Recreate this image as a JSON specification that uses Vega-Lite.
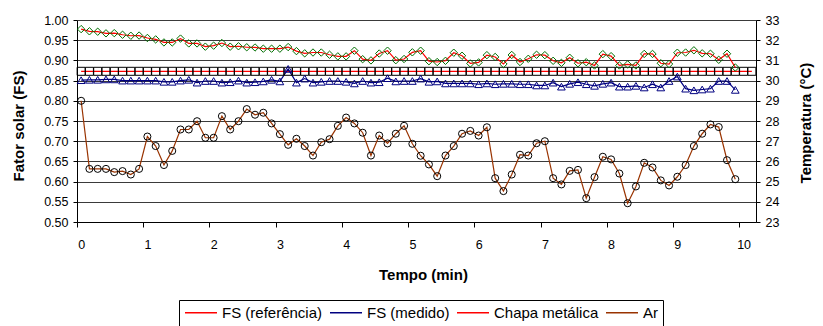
{
  "$schema": "https://vega.github.io/schema/vega-lite/v6.json",
  "width": 679,
  "height": 202,
  "autosize": {"type": "none"},
  "padding": {"left": 77, "top": 20, "right": 67, "bottom": 104},
  "background": "white",
  "config": {
    "font": "Liberation Sans",
    "view": {"stroke": null},
    "axis": {
      "labelFont": "Liberation Sans",
      "labelFontSize": 12.5,
      "labelColor": "black",
      "titleFont": "Liberation Sans",
      "titleFontSize": 15,
      "titleFontWeight": "bold",
      "titleColor": "black",
      "domainColor": "black",
      "tickColor": "black",
      "domainWidth": 1,
      "tickWidth": 1
    }
  },
  "datasets": {
    "fs": [
      {"t":0,"serie":"FS (referência)","v":0.873},{"t":0.125,"serie":"FS (referência)","v":0.873},{"t":0.25,"serie":"FS (referência)","v":0.873},{"t":0.375,"serie":"FS (referência)","v":0.873},{"t":0.5,"serie":"FS (referência)","v":0.873},{"t":0.625,"serie":"FS (referência)","v":0.873},{"t":0.75,"serie":"FS (referência)","v":0.873},{"t":0.875,"serie":"FS (referência)","v":0.873},
      {"t":1,"serie":"FS (referência)","v":0.873},{"t":1.125,"serie":"FS (referência)","v":0.873},{"t":1.25,"serie":"FS (referência)","v":0.873},{"t":1.375,"serie":"FS (referência)","v":0.873},{"t":1.5,"serie":"FS (referência)","v":0.873},{"t":1.625,"serie":"FS (referência)","v":0.873},{"t":1.75,"serie":"FS (referência)","v":0.873},{"t":1.875,"serie":"FS (referência)","v":0.873},
      {"t":2,"serie":"FS (referência)","v":0.873},{"t":2.125,"serie":"FS (referência)","v":0.873},{"t":2.25,"serie":"FS (referência)","v":0.873},{"t":2.375,"serie":"FS (referência)","v":0.873},{"t":2.5,"serie":"FS (referência)","v":0.873},{"t":2.625,"serie":"FS (referência)","v":0.873},{"t":2.75,"serie":"FS (referência)","v":0.873},{"t":2.875,"serie":"FS (referência)","v":0.873},
      {"t":3,"serie":"FS (referência)","v":0.873},{"t":3.125,"serie":"FS (referência)","v":0.873},{"t":3.25,"serie":"FS (referência)","v":0.873},{"t":3.375,"serie":"FS (referência)","v":0.873},{"t":3.5,"serie":"FS (referência)","v":0.873},{"t":3.625,"serie":"FS (referência)","v":0.873},{"t":3.75,"serie":"FS (referência)","v":0.873},{"t":3.875,"serie":"FS (referência)","v":0.873},
      {"t":4,"serie":"FS (referência)","v":0.873},{"t":4.125,"serie":"FS (referência)","v":0.873},{"t":4.25,"serie":"FS (referência)","v":0.873},{"t":4.375,"serie":"FS (referência)","v":0.873},{"t":4.5,"serie":"FS (referência)","v":0.873},{"t":4.625,"serie":"FS (referência)","v":0.873},{"t":4.75,"serie":"FS (referência)","v":0.873},{"t":4.875,"serie":"FS (referência)","v":0.873},
      {"t":5,"serie":"FS (referência)","v":0.873},{"t":5.125,"serie":"FS (referência)","v":0.873},{"t":5.25,"serie":"FS (referência)","v":0.873},{"t":5.375,"serie":"FS (referência)","v":0.873},{"t":5.5,"serie":"FS (referência)","v":0.873},{"t":5.625,"serie":"FS (referência)","v":0.873},{"t":5.75,"serie":"FS (referência)","v":0.873},{"t":5.875,"serie":"FS (referência)","v":0.873},
      {"t":6,"serie":"FS (referência)","v":0.873},{"t":6.125,"serie":"FS (referência)","v":0.873},{"t":6.25,"serie":"FS (referência)","v":0.873},{"t":6.375,"serie":"FS (referência)","v":0.873},{"t":6.5,"serie":"FS (referência)","v":0.873},{"t":6.625,"serie":"FS (referência)","v":0.873},{"t":6.75,"serie":"FS (referência)","v":0.873},{"t":6.875,"serie":"FS (referência)","v":0.873},
      {"t":7,"serie":"FS (referência)","v":0.873},{"t":7.125,"serie":"FS (referência)","v":0.873},{"t":7.25,"serie":"FS (referência)","v":0.873},{"t":7.375,"serie":"FS (referência)","v":0.873},{"t":7.5,"serie":"FS (referência)","v":0.873},{"t":7.625,"serie":"FS (referência)","v":0.873},{"t":7.75,"serie":"FS (referência)","v":0.873},{"t":7.875,"serie":"FS (referência)","v":0.873},
      {"t":8,"serie":"FS (referência)","v":0.873},{"t":8.125,"serie":"FS (referência)","v":0.873},{"t":8.25,"serie":"FS (referência)","v":0.873},{"t":8.375,"serie":"FS (referência)","v":0.873},{"t":8.5,"serie":"FS (referência)","v":0.873},{"t":8.625,"serie":"FS (referência)","v":0.873},{"t":8.75,"serie":"FS (referência)","v":0.873},{"t":8.875,"serie":"FS (referência)","v":0.873},
      {"t":9,"serie":"FS (referência)","v":0.873},{"t":9.125,"serie":"FS (referência)","v":0.873},{"t":9.25,"serie":"FS (referência)","v":0.873},{"t":9.375,"serie":"FS (referência)","v":0.873},{"t":9.5,"serie":"FS (referência)","v":0.873},{"t":9.625,"serie":"FS (referência)","v":0.873},{"t":9.75,"serie":"FS (referência)","v":0.873},{"t":9.875,"serie":"FS (referência)","v":0.873},
      {"t":10,"serie":"FS (referência)","v":0.873},{"t":10.125,"serie":"FS (referência)","v":0.873},

      {"t":0,"serie":"FS (medido)","v":0.851},{"t":0.125,"serie":"FS (medido)","v":0.852},{"t":0.25,"serie":"FS (medido)","v":0.852},{"t":0.375,"serie":"FS (medido)","v":0.853},{"t":0.5,"serie":"FS (medido)","v":0.853},{"t":0.625,"serie":"FS (medido)","v":0.85},{"t":0.75,"serie":"FS (medido)","v":0.85},{"t":0.875,"serie":"FS (medido)","v":0.85},
      {"t":1,"serie":"FS (medido)","v":0.85},{"t":1.125,"serie":"FS (medido)","v":0.85},{"t":1.25,"serie":"FS (medido)","v":0.847},{"t":1.375,"serie":"FS (medido)","v":0.847},{"t":1.5,"serie":"FS (medido)","v":0.85},{"t":1.625,"serie":"FS (medido)","v":0.852},{"t":1.75,"serie":"FS (medido)","v":0.845},{"t":1.875,"serie":"FS (medido)","v":0.849},
      {"t":2,"serie":"FS (medido)","v":0.849},{"t":2.125,"serie":"FS (medido)","v":0.845},{"t":2.25,"serie":"FS (medido)","v":0.846},{"t":2.375,"serie":"FS (medido)","v":0.85},{"t":2.5,"serie":"FS (medido)","v":0.845},{"t":2.625,"serie":"FS (medido)","v":0.846},{"t":2.75,"serie":"FS (medido)","v":0.848},{"t":2.875,"serie":"FS (medido)","v":0.852},
      {"t":3,"serie":"FS (medido)","v":0.848},{"t":3.125,"serie":"FS (medido)","v":0.879},{"t":3.25,"serie":"FS (medido)","v":0.845},{"t":3.375,"serie":"FS (medido)","v":0.855},{"t":3.5,"serie":"FS (medido)","v":0.845},{"t":3.625,"serie":"FS (medido)","v":0.847},{"t":3.75,"serie":"FS (medido)","v":0.849},{"t":3.875,"serie":"FS (medido)","v":0.849},
      {"t":4,"serie":"FS (medido)","v":0.847},{"t":4.125,"serie":"FS (medido)","v":0.843},{"t":4.25,"serie":"FS (medido)","v":0.849},{"t":4.375,"serie":"FS (medido)","v":0.845},{"t":4.5,"serie":"FS (medido)","v":0.846},{"t":4.625,"serie":"FS (medido)","v":0.856},{"t":4.75,"serie":"FS (medido)","v":0.848},{"t":4.875,"serie":"FS (medido)","v":0.849},
      {"t":5,"serie":"FS (medido)","v":0.849},{"t":5.125,"serie":"FS (medido)","v":0.855},{"t":5.25,"serie":"FS (medido)","v":0.847},{"t":5.375,"serie":"FS (medido)","v":0.848},{"t":5.5,"serie":"FS (medido)","v":0.843},{"t":5.625,"serie":"FS (medido)","v":0.843},{"t":5.75,"serie":"FS (medido)","v":0.843},{"t":5.875,"serie":"FS (medido)","v":0.843},
      {"t":6,"serie":"FS (medido)","v":0.841},{"t":6.125,"serie":"FS (medido)","v":0.843},{"t":6.25,"serie":"FS (medido)","v":0.841},{"t":6.375,"serie":"FS (medido)","v":0.842},{"t":6.5,"serie":"FS (medido)","v":0.842},{"t":6.625,"serie":"FS (medido)","v":0.841},{"t":6.75,"serie":"FS (medido)","v":0.841},{"t":6.875,"serie":"FS (medido)","v":0.838},
      {"t":7,"serie":"FS (medido)","v":0.838},{"t":7.125,"serie":"FS (medido)","v":0.845},{"t":7.25,"serie":"FS (medido)","v":0.835},{"t":7.375,"serie":"FS (medido)","v":0.842},{"t":7.5,"serie":"FS (medido)","v":0.846},{"t":7.625,"serie":"FS (medido)","v":0.841},{"t":7.75,"serie":"FS (medido)","v":0.837},{"t":7.875,"serie":"FS (medido)","v":0.842},
      {"t":8,"serie":"FS (medido)","v":0.845},{"t":8.125,"serie":"FS (medido)","v":0.835},{"t":8.25,"serie":"FS (medido)","v":0.835},{"t":8.375,"serie":"FS (medido)","v":0.837},{"t":8.5,"serie":"FS (medido)","v":0.833},{"t":8.625,"serie":"FS (medido)","v":0.841},{"t":8.75,"serie":"FS (medido)","v":0.833},{"t":8.875,"serie":"FS (medido)","v":0.849},
      {"t":9,"serie":"FS (medido)","v":0.86},{"t":9.125,"serie":"FS (medido)","v":0.83},{"t":9.25,"serie":"FS (medido)","v":0.826},{"t":9.375,"serie":"FS (medido)","v":0.828},{"t":9.5,"serie":"FS (medido)","v":0.83},{"t":9.625,"serie":"FS (medido)","v":0.849},{"t":9.75,"serie":"FS (medido)","v":0.849},{"t":9.875,"serie":"FS (medido)","v":0.827}
    ],
    "temp": [
      {"t":0,"serie":"Chapa metálica","v":32.55},{"t":0.125,"serie":"Chapa metálica","v":32.44},{"t":0.25,"serie":"Chapa metálica","v":32.42},{"t":0.375,"serie":"Chapa metálica","v":32.34},{"t":0.5,"serie":"Chapa metálica","v":32.35},{"t":0.625,"serie":"Chapa metálica","v":32.27},{"t":0.75,"serie":"Chapa metálica","v":32.22},{"t":0.875,"serie":"Chapa metálica","v":32.23},
      {"t":1,"serie":"Chapa metálica","v":32.11},{"t":1.125,"serie":"Chapa metálica","v":32.04},{"t":1.25,"serie":"Chapa metálica","v":31.89},{"t":1.375,"serie":"Chapa metálica","v":31.89},{"t":1.5,"serie":"Chapa metálica","v":32.08},{"t":1.625,"serie":"Chapa metálica","v":31.84},{"t":1.75,"serie":"Chapa metálica","v":31.84},{"t":1.875,"serie":"Chapa metálica","v":31.68},
      {"t":2,"serie":"Chapa metálica","v":31.73},{"t":2.125,"serie":"Chapa metálica","v":31.86},{"t":2.25,"serie":"Chapa metálica","v":31.68},{"t":2.375,"serie":"Chapa metálica","v":31.7},{"t":2.5,"serie":"Chapa metálica","v":31.65},{"t":2.625,"serie":"Chapa metálica","v":31.64},{"t":2.75,"serie":"Chapa metálica","v":31.58},{"t":2.875,"serie":"Chapa metálica","v":31.58},
      {"t":3,"serie":"Chapa metálica","v":31.58},{"t":3.125,"serie":"Chapa metálica","v":31.66},{"t":3.25,"serie":"Chapa metálica","v":31.46},{"t":3.375,"serie":"Chapa metálica","v":31.35},{"t":3.5,"serie":"Chapa metálica","v":31.39},{"t":3.625,"serie":"Chapa metálica","v":31.39},{"t":3.75,"serie":"Chapa metálica","v":31.28},{"t":3.875,"serie":"Chapa metálica","v":31.2},
      {"t":4,"serie":"Chapa metálica","v":31.2},{"t":4.125,"serie":"Chapa metálica","v":31.48},{"t":4.25,"serie":"Chapa metálica","v":31.06},{"t":4.375,"serie":"Chapa metálica","v":31.0},{"t":4.5,"serie":"Chapa metálica","v":31.34},{"t":4.625,"serie":"Chapa metálica","v":31.48},{"t":4.75,"serie":"Chapa metálica","v":31.01},{"t":4.875,"serie":"Chapa metálica","v":31.07},
      {"t":5,"serie":"Chapa metálica","v":31.4},{"t":5.125,"serie":"Chapa metálica","v":31.48},{"t":5.25,"serie":"Chapa metálica","v":30.96},{"t":5.375,"serie":"Chapa metálica","v":30.92},{"t":5.5,"serie":"Chapa metálica","v":30.98},{"t":5.625,"serie":"Chapa metálica","v":31.38},{"t":5.75,"serie":"Chapa metálica","v":31.23},{"t":5.875,"serie":"Chapa metálica","v":30.85},
      {"t":6,"serie":"Chapa metálica","v":30.9},{"t":6.125,"serie":"Chapa metálica","v":31.26},{"t":6.25,"serie":"Chapa metálica","v":31.17},{"t":6.375,"serie":"Chapa metálica","v":30.82},{"t":6.5,"serie":"Chapa metálica","v":31.27},{"t":6.625,"serie":"Chapa metálica","v":30.92},{"t":6.75,"serie":"Chapa metálica","v":31.08},{"t":6.875,"serie":"Chapa metálica","v":31.28},
      {"t":7,"serie":"Chapa metálica","v":31.26},{"t":7.125,"serie":"Chapa metálica","v":30.98},{"t":7.25,"serie":"Chapa metálica","v":30.88},{"t":7.375,"serie":"Chapa metálica","v":31.13},{"t":7.5,"serie":"Chapa metálica","v":30.86},{"t":7.625,"serie":"Chapa metálica","v":30.91},{"t":7.75,"serie":"Chapa metálica","v":30.75},{"t":7.875,"serie":"Chapa metálica","v":31.31},
      {"t":8,"serie":"Chapa metálica","v":31.21},{"t":8.125,"serie":"Chapa metálica","v":30.75},{"t":8.25,"serie":"Chapa metálica","v":30.8},{"t":8.375,"serie":"Chapa metálica","v":30.75},{"t":8.5,"serie":"Chapa metálica","v":31.32},{"t":8.625,"serie":"Chapa metálica","v":31.32},{"t":8.75,"serie":"Chapa metálica","v":30.86},{"t":8.875,"serie":"Chapa metálica","v":30.82},
      {"t":9,"serie":"Chapa metálica","v":31.38},{"t":9.125,"serie":"Chapa metálica","v":31.39},{"t":9.25,"serie":"Chapa metálica","v":31.5},{"t":9.375,"serie":"Chapa metálica","v":31.35},{"t":9.5,"serie":"Chapa metálica","v":31.33},{"t":9.625,"serie":"Chapa metálica","v":31.03},{"t":9.75,"serie":"Chapa metálica","v":31.33},{"t":9.875,"serie":"Chapa metálica","v":30.65},

      {"t":0,"serie":"Ar","v":29.0},{"t":0.125,"serie":"Ar","v":25.63},{"t":0.25,"serie":"Ar","v":25.63},{"t":0.375,"serie":"Ar","v":25.63},{"t":0.5,"serie":"Ar","v":25.47},{"t":0.625,"serie":"Ar","v":25.52},{"t":0.75,"serie":"Ar","v":25.35},{"t":0.875,"serie":"Ar","v":25.63},
      {"t":1,"serie":"Ar","v":27.23},{"t":1.125,"serie":"Ar","v":26.76},{"t":1.25,"serie":"Ar","v":25.82},{"t":1.375,"serie":"Ar","v":26.52},{"t":1.5,"serie":"Ar","v":27.58},{"t":1.625,"serie":"Ar","v":27.58},{"t":1.75,"serie":"Ar","v":27.99},{"t":1.875,"serie":"Ar","v":27.17},
      {"t":2,"serie":"Ar","v":27.17},{"t":2.125,"serie":"Ar","v":28.24},{"t":2.25,"serie":"Ar","v":27.58},{"t":2.375,"serie":"Ar","v":27.99},{"t":2.5,"serie":"Ar","v":28.59},{"t":2.625,"serie":"Ar","v":28.31},{"t":2.75,"serie":"Ar","v":28.41},{"t":2.875,"serie":"Ar","v":27.88},
      {"t":3,"serie":"Ar","v":27.35},{"t":3.125,"serie":"Ar","v":26.82},{"t":3.25,"serie":"Ar","v":27.12},{"t":3.375,"serie":"Ar","v":26.76},{"t":3.5,"serie":"Ar","v":26.29},{"t":3.625,"serie":"Ar","v":26.95},{"t":3.75,"serie":"Ar","v":27.1},{"t":3.875,"serie":"Ar","v":27.76},
      {"t":4,"serie":"Ar","v":28.17},{"t":4.125,"serie":"Ar","v":27.88},{"t":4.25,"serie":"Ar","v":27.42},{"t":4.375,"serie":"Ar","v":26.29},{"t":4.5,"serie":"Ar","v":27.28},{"t":4.625,"serie":"Ar","v":26.89},{"t":4.75,"serie":"Ar","v":27.37},{"t":4.875,"serie":"Ar","v":27.76},
      {"t":5,"serie":"Ar","v":26.87},{"t":5.125,"serie":"Ar","v":26.28},{"t":5.25,"serie":"Ar","v":25.85},{"t":5.375,"serie":"Ar","v":25.27},{"t":5.5,"serie":"Ar","v":26.29},{"t":5.625,"serie":"Ar","v":26.76},{"t":5.75,"serie":"Ar","v":27.37},{"t":5.875,"serie":"Ar","v":27.51},
      {"t":6,"serie":"Ar","v":27.28},{"t":6.125,"serie":"Ar","v":27.69},{"t":6.25,"serie":"Ar","v":25.17},{"t":6.375,"serie":"Ar","v":24.53},{"t":6.5,"serie":"Ar","v":25.35},{"t":6.625,"serie":"Ar","v":26.33},{"t":6.75,"serie":"Ar","v":26.29},{"t":6.875,"serie":"Ar","v":26.9},
      {"t":7,"serie":"Ar","v":27.0},{"t":7.125,"serie":"Ar","v":25.17},{"t":7.25,"serie":"Ar","v":24.86},{"t":7.375,"serie":"Ar","v":25.53},{"t":7.5,"serie":"Ar","v":25.58},{"t":7.625,"serie":"Ar","v":24.18},{"t":7.75,"serie":"Ar","v":25.22},{"t":7.875,"serie":"Ar","v":26.23},
      {"t":8,"serie":"Ar","v":26.1},{"t":8.125,"serie":"Ar","v":25.4},{"t":8.25,"serie":"Ar","v":23.93},{"t":8.375,"serie":"Ar","v":24.76},{"t":8.5,"serie":"Ar","v":25.93},{"t":8.625,"serie":"Ar","v":25.7},{"t":8.75,"serie":"Ar","v":25.06},{"t":8.875,"serie":"Ar","v":24.81},
      {"t":9,"serie":"Ar","v":25.24},{"t":9.125,"serie":"Ar","v":25.82},{"t":9.25,"serie":"Ar","v":26.76},{"t":9.375,"serie":"Ar","v":27.37},{"t":9.5,"serie":"Ar","v":27.83},{"t":9.625,"serie":"Ar","v":27.7},{"t":9.75,"serie":"Ar","v":26.06},{"t":9.875,"serie":"Ar","v":25.12}
    ]
  },
  "encoding": {
    "x": {
      "field": "t",
      "type": "quantitative",
      "scale": {"domain": [-0.0625, 10.1875], "nice": false, "zero": false},
      "axis": {
        "values": [0,1,2,3,4,5,6,7,8,9,10],
        "format": "d",
        "grid": false,
        "tickOffset": -4.14,
        "labelOffset": 4.14,
        "tickSize": 5,
        "labelPadding": 11,
        "labelFlush": false,
        "title": "Tempo (min)",
        "titleX": 346,
        "titlePadding": 17
      }
    }
  },
  "layer": [
    {
      "data": {"name": "fs"},
      "encoding": {
        "y": {
          "field": "v",
          "type": "quantitative",
          "scale": {"domain": [0.5, 1.0], "nice": false, "zero": false},
          "axis": {
            "orient": "left",
            "values": [0.5,0.55,0.6,0.65,0.7,0.75,0.8,0.85,0.9,0.95,1.0],
            "format": ".2f",
            "grid": true,
            "gridColor": "#3a3a3a",
            "gridWidth": 1,
            "tickSize": 4,
            "labelPadding": 5,
            "labelFlush": false,
            "title": "Fator solar (FS)",
            "titleAngle": 270,
            "titleAlign": "center",
            "titleBaseline": "middle",
            "titleX": -58.5,
            "titleY": 105.5
          }
        }
      },
      "layer": [
        {
          "mark": {"type": "line", "strokeWidth": 1.2},
          "encoding": {
            "color": {
              "field": "serie",
              "type": "nominal",
              "scale": {"domain": ["FS (referência)","FS (medido)","Chapa metálica","Ar"], "range": ["#ff0000","#000080","#ff0000","#993300"]},
              "legend": {"orient": "none","legendX": 102,"legendY": 280,"direction": "horizontal","title": null,"symbolType": "stroke","symbolSize": 1024,"symbolStrokeWidth": 1.5,"clipHeight": 15,"labelFont": "Liberation Sans","labelFontSize": 15,"labelColor": "black","labelOffset": 4,"columnPadding": 6,"padding": 5,"strokeColor": "black","fillColor": "white","labelLimit": 300,
                "encode": {"symbols": {"update": {"shape": {"value": "stroke"}, "size": {"value": 1024}, "strokeWidth": {"value": 1.5}, "stroke": {"scale": "color", "field": "value"}}}}}
            }
          }
        },
        {
          "mark": {"type": "point", "filled": false, "strokeWidth": 1, "opacity": 1},
          "encoding": {
            "shape": {
              "field": "serie",
              "type": "nominal",
              "scale": {"range": ["circle","diamond","triangle-up","square"]},
              "legend": null
            },
            "size": {
              "field": "serie",
              "type": "nominal",
              "scale": {"range": [50,64,56,42]},
              "legend": null
            },
            "stroke": {
              "field": "serie",
              "type": "nominal",
              "scale": {"range": ["#000000","#006e00","#000080","#000000"]},
              "legend": {"orient": "none","legendX": 102,"legendY": 280,"direction": "horizontal","title": null,"values": ["FS (referência)","FS (medido)","Chapa metálica","Ar"],"symbolSize": 1024,"symbolStrokeWidth": 1.5,"clipHeight": 15,"labelFont": "Liberation Sans","labelFontSize": 15,"labelOpacity": 0,"labelOffset": 4,"columnPadding": 6,"padding": 5,"labelLimit": 300,
                "labelExpr": "datum.label == 'FS (referência)' ? '\u00a0\u00a0\u00a0\u00a0\u00a0\u00a0\u00a0\u00a0\u00a0\u00a0\u00a0\u00a0\u00a0\u00a0\u00a0\u00a0\u00a0\u00a0\u00a0\u00a0\u00a0\u00a0\u00a0\u00a0' : datum.label == 'FS (medido)' ? '\u00a0\u00a0\u00a0\u00a0\u00a0\u00a0\u00a0\u00a0\u00a0\u00a0\u00a0\u00a0\u00a0\u00a0\u00a0\u00a0\u00a0\u00a0\u00a0\u00a0' : datum.label == 'Chapa metálica' ? '\u00a0\u00a0\u00a0\u00a0\u00a0\u00a0\u00a0\u00a0\u00a0\u00a0\u00a0\u00a0\u00a0\u00a0\u00a0\u00a0\u00a0\u00a0\u00a0\u00a0\u00a0\u00a0\u00a0\u00a0\u00a0' : '\u00a0\u00a0\u00a0\u00a0'",
                "encode": {"symbols": {"update": {"size": {"value": 26}, "shape": {"signal": "datum.value == 'FS (referência)' ? 'square' : datum.value == 'FS (medido)' ? 'triangle-up' : datum.value == 'Chapa metálica' ? 'diamond' : 'circle'"}, "stroke": {"signal": "datum.value == 'FS (medido)' ? '#000080' : datum.value == 'Chapa metálica' ? '#006e00' : '#000000'"}, "fill": {"value": "white"}, "strokeWidth": {"value": 1}, "opacity": {"value": 1}}}}}
            }
          }
        }
      ]
    },
    {
      "data": {"name": "temp"},
      "encoding": {
        "y": {
          "field": "v",
          "type": "quantitative",
          "scale": {"domain": [23, 33], "nice": false, "zero": false},
          "axis": {
            "orient": "right",
            "values": [23,24,25,26,27,28,29,30,31,32,33],
            "format": "d",
            "grid": false,
            "tickSize": 4,
            "labelPadding": 5,
            "labelFlush": false,
            "title": "Temperatura (°C)",
            "titleAngle": 270,
            "titleAlign": "center",
            "titleBaseline": "middle",
            "titleX": 49.5,
            "titleY": 102.5
          }
        }
      },
      "layer": [
        {
          "mark": {"type": "line", "strokeWidth": 1.2},
          "encoding": {
            "color": {
              "field": "serie",
              "type": "nominal",
              "scale": {"domain": ["FS (referência)","FS (medido)","Chapa metálica","Ar"], "range": ["#ff0000","#000080","#ff0000","#993300"]},
              "legend": {"orient": "none","legendX": 102,"legendY": 280,"direction": "horizontal","title": null,"symbolType": "stroke","symbolSize": 1024,"symbolStrokeWidth": 1.5,"clipHeight": 15,"labelFont": "Liberation Sans","labelFontSize": 15,"labelColor": "black","labelOffset": 4,"columnPadding": 6,"padding": 5,"strokeColor": "black","fillColor": "white","labelLimit": 300,
                "encode": {"symbols": {"update": {"shape": {"value": "stroke"}, "size": {"value": 1024}, "strokeWidth": {"value": 1.5}, "stroke": {"scale": "color", "field": "value"}}}}}
            }
          }
        },
        {
          "mark": {"type": "point", "filled": false, "strokeWidth": 1, "opacity": 1},
          "encoding": {
            "shape": {
              "field": "serie",
              "type": "nominal",
              "scale": {"range": ["circle","diamond","triangle-up","square"]},
              "legend": null
            },
            "size": {
              "field": "serie",
              "type": "nominal",
              "scale": {"range": [50,64,56,42]},
              "legend": null
            },
            "stroke": {
              "field": "serie",
              "type": "nominal",
              "scale": {"range": ["#000000","#006e00","#000080","#000000"]},
              "legend": {"orient": "none","legendX": 102,"legendY": 280,"direction": "horizontal","title": null,"values": ["FS (referência)","FS (medido)","Chapa metálica","Ar"],"symbolSize": 1024,"symbolStrokeWidth": 1.5,"clipHeight": 15,"labelFont": "Liberation Sans","labelFontSize": 15,"labelOpacity": 0,"labelOffset": 4,"columnPadding": 6,"padding": 5,"labelLimit": 300,
                "labelExpr": "datum.label == 'FS (referência)' ? '\u00a0\u00a0\u00a0\u00a0\u00a0\u00a0\u00a0\u00a0\u00a0\u00a0\u00a0\u00a0\u00a0\u00a0\u00a0\u00a0\u00a0\u00a0\u00a0\u00a0\u00a0\u00a0\u00a0\u00a0' : datum.label == 'FS (medido)' ? '\u00a0\u00a0\u00a0\u00a0\u00a0\u00a0\u00a0\u00a0\u00a0\u00a0\u00a0\u00a0\u00a0\u00a0\u00a0\u00a0\u00a0\u00a0\u00a0\u00a0' : datum.label == 'Chapa metálica' ? '\u00a0\u00a0\u00a0\u00a0\u00a0\u00a0\u00a0\u00a0\u00a0\u00a0\u00a0\u00a0\u00a0\u00a0\u00a0\u00a0\u00a0\u00a0\u00a0\u00a0\u00a0\u00a0\u00a0\u00a0\u00a0' : '\u00a0\u00a0\u00a0\u00a0'",
                "encode": {"symbols": {"update": {"size": {"value": 26}, "shape": {"signal": "datum.value == 'FS (referência)' ? 'square' : datum.value == 'FS (medido)' ? 'triangle-up' : datum.value == 'Chapa metálica' ? 'diamond' : 'circle'"}, "stroke": {"signal": "datum.value == 'FS (medido)' ? '#000080' : datum.value == 'Chapa metálica' ? '#006e00' : '#000000'"}, "fill": {"value": "white"}, "strokeWidth": {"value": 1}, "opacity": {"value": 1}}}}}
            }
          }
        }
      ]
    }
  ],
  "resolve": {"scale": {"y": "independent"}}
}
